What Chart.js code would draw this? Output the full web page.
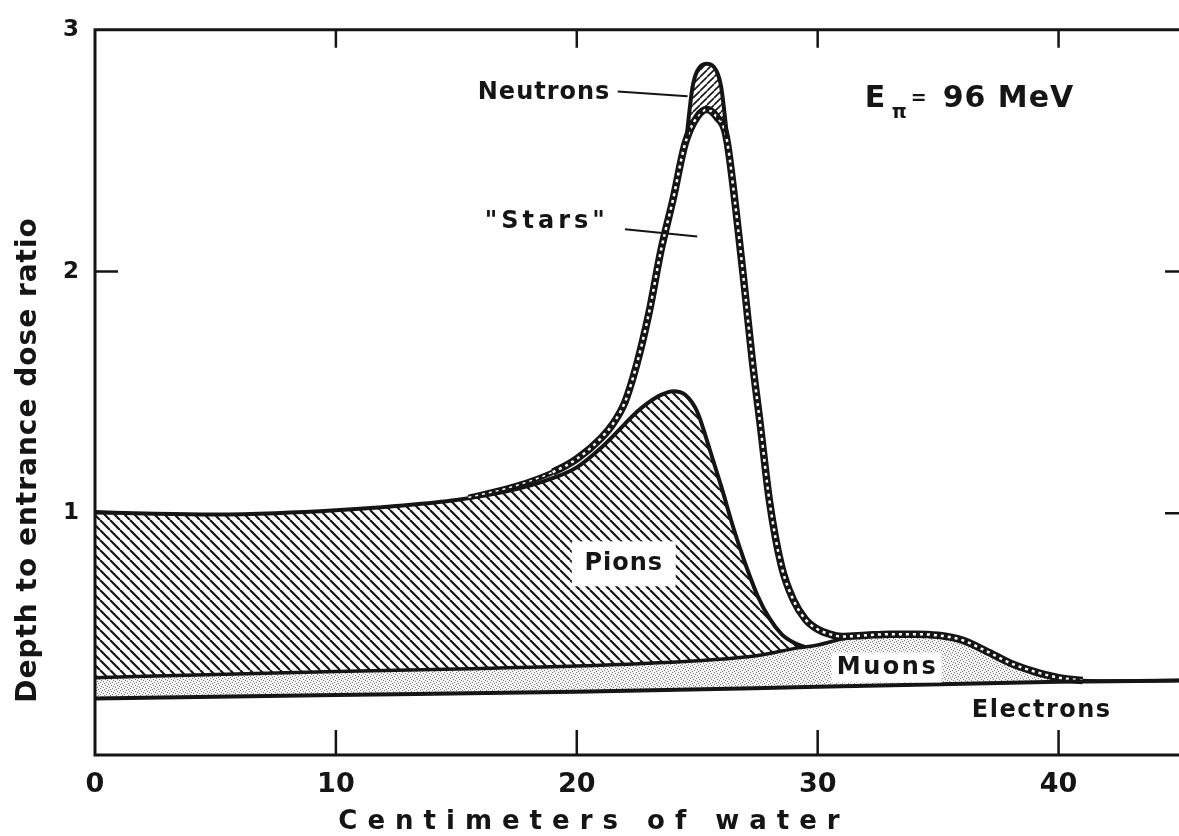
<!DOCTYPE html>
<html>
<head>
<meta charset="utf-8">
<script src="https://cdn.jsdelivr.net/npm/chart.js@4.4.1/dist/chart.umd.min.js"></script>
<style>
  html, body { margin: 0; padding: 0; background: #fff; }
  #wrap { width: 1179px; height: 836px; }
</style>
</head>
<body>
<div id="wrap"><canvas id="dose" width="1179" height="836"></canvas></div>
<script>
// depth in water (cm) vs depth-to-entrance dose ratio
const electronsX = [0, 10, 20, 30, 40, 45];
const electronsY = [0.234, 0.248, 0.262, 0.282, 0.303, 0.308];

const muonsX = [0, 5, 10, 15, 20, 25, 27, 28, 29, 30, 31, 32, 33, 34, 35, 36, 37, 38, 39, 40, 41, 42, 45];
const muonsY = [0.32, 0.333, 0.345, 0.356, 0.368, 0.39, 0.405, 0.42, 0.44, 0.455, 0.48, 0.495, 0.5, 0.5, 0.495, 0.475, 0.43, 0.38, 0.345, 0.32, 0.308, 0.306, 0.308];

const pionsX = [0, 2.5, 5, 7.5, 10, 12.5, 15, 17.5, 19, 20, 21, 22, 22.5, 23, 23.5, 24, 24.5, 25, 25.5, 26, 26.5, 27, 27.5, 28, 28.5, 29, 29.5];
const pionsY = [1.005, 0.998, 0.995, 1.0, 1.012, 1.03, 1.055, 1.1, 1.145, 1.19, 1.27, 1.37, 1.42, 1.46, 1.49, 1.505, 1.49, 1.42, 1.27, 1.11, 0.94, 0.79, 0.66, 0.565, 0.5, 0.465, 0.445];

// "stars" = outer (total) curve, drawn as the beaded band
const starsX = [15.5, 17.5, 19, 20, 21, 21.5, 22, 22.5, 23, 23.5, 24, 24.5, 25, 25.4, 25.8, 26.2, 26.6, 27, 27.3, 27.6, 28, 28.5, 29, 29.5, 30, 30.5, 31, 32, 33, 34, 35, 36, 37, 38, 39, 40, 41];
const starsY = [1.065, 1.115, 1.17, 1.225, 1.31, 1.37, 1.46, 1.62, 1.83, 2.09, 2.3, 2.53, 2.64, 2.67, 2.64, 2.56, 2.26, 1.9, 1.62, 1.38, 1.05, 0.78, 0.64, 0.56, 0.52, 0.5, 0.49, 0.495, 0.5, 0.5, 0.495, 0.475, 0.43, 0.38, 0.345, 0.32, 0.308];

const neutronsX = [24.55, 24.8, 25.0, 25.4, 25.8, 26.0, 26.25];
const neutronsY = [2.55, 2.76, 2.83, 2.86, 2.83, 2.76, 2.55];

const xTicks = [0, 10, 20, 30, 40];
const yTicks = [1, 2, 3];

const FONT = '"DejaVu Sans", sans-serif';
const INK = '#151515';

const canvas = document.getElementById('dose');
const ctx = canvas.getContext('2d');

function hatch(size, width, back) {
  const c = document.createElement('canvas');
  c.width = size; c.height = size;
  const g = c.getContext('2d');
  g.strokeStyle = INK;
  g.lineWidth = width;
  g.beginPath();
  for (let k = -1; k <= 1; k++) {
    if (back) { g.moveTo(k * size, 0); g.lineTo(k * size + size, size); }
    else { g.moveTo(k * size, size); g.lineTo(k * size + size, 0); }
  }
  g.stroke();
  return ctx.createPattern(c, 'repeat');
}

function stipple() {
  const c = document.createElement('canvas');
  c.width = 6; c.height = 6;
  const g = c.getContext('2d');
  g.fillStyle = '#f4f4f4';
  g.fillRect(0, 0, 6, 6);
  g.fillStyle = '#7a7a7a';
  [[0, 0], [3, 1], [1, 3], [4, 4], [5, 2], [2, 5]].forEach(([x, y]) => g.fillRect(x, y, 1, 1));
  return ctx.createPattern(c, 'repeat');
}

const pts = (xs, ys) => xs.map((x, i) => ({ x: x, y: ys[i] }));

// the beaded band is thinner where it leaves the pion curve
const bandWidth = (wide, thin) => s => (s.p0.parsed.x < 19 ? thin : wide);

// frame and inward ticks
const framePlugin = {
  id: 'frame',
  afterDatasetsDraw(chart) {
    const { left, right, top, bottom } = chart.chartArea;
    const x = chart.scales.x, y = chart.scales.y;
    const c = chart.ctx;
    c.save();
    c.strokeStyle = INK;
    c.lineWidth = 3;
    c.beginPath();
    c.moveTo(right, top); c.lineTo(left, top); c.lineTo(left, bottom); c.lineTo(right, bottom);
    c.stroke();
    c.lineWidth = 2.5;
    c.beginPath();
    x.ticks.forEach(t => {
      if (t.value <= 0 || t.value >= 45) return;
      const px = x.getPixelForValue(t.value);
      c.moveTo(px, bottom); c.lineTo(px, bottom - 25);
      c.moveTo(px, top); c.lineTo(px, top + 18);
    });
    [1, 2].forEach(v => {
      const py = y.getPixelForValue(v);
      c.moveTo(left, py); c.lineTo(left + 23, py);
      c.moveTo(right, py); c.lineTo(right - 14, py);
    });
    c.stroke();
    c.restore();
  }
};

// in-plot labels, leader lines and axis titles
const labelPlugin = {
  id: 'labels',
  afterDraw(chart) {
    const x = chart.scales.x, y = chart.scales.y;
    const c = chart.ctx;
    const X = v => x.getPixelForValue(v), Y = v => y.getPixelForValue(v);
    c.save();
    c.fillStyle = INK;
    c.strokeStyle = INK;
    c.textBaseline = 'middle';

    // white boxes behind labels inside filled areas
    c.fillStyle = '#fff';
    c.fillRect(X(21.95) - 52, Y(0.793) - 22, 104, 45);
    c.fillRect(X(32.86) - 55, Y(0.362) - 15, 110, 30);
    c.fillStyle = INK;

    c.font = 'bold 24px ' + FONT;
    c.letterSpacing = '1px';
    c.textAlign = 'left';
    c.fillText('Neutrons', X(15.89), Y(2.741));
    c.letterSpacing = '4px';
    c.fillText('"Stars"', X(16.18), Y(2.207));
    c.textAlign = 'center';
    c.letterSpacing = '1px';
    c.fillText('Pions', X(21.95), Y(0.793));
    c.letterSpacing = '2.5px';
    c.fillText('Muons', X(32.9), Y(0.362));
    c.letterSpacing = '1.5px';
    c.fillText('Electrons', X(39.3), Y(0.185));

    c.lineWidth = 2;
    c.beginPath();
    c.moveTo(X(21.7), Y(2.745)); c.lineTo(X(24.6), Y(2.725));
    c.moveTo(X(22.0), Y(2.175)); c.lineTo(X(25.0), Y(2.145));
    c.stroke();

    // E_pi = 96 MeV
    c.textAlign = 'left';
    c.letterSpacing = '0px';
    const ex = X(31.95), ey = Y(2.713);
    c.font = 'bold 30px ' + FONT;
    c.fillText('E', ex, ey);
    c.font = 'bold 19px ' + FONT;
    c.fillText('π', ex + 27, ey + 14);
    c.fillText('=', ex + 46, ey);
    c.font = 'bold 30px ' + FONT;
    c.letterSpacing = '1px';
    c.fillText('96 MeV', ex + 78, ey);

    // axis titles
    c.font = 'bold 26px ' + FONT;
    c.letterSpacing = '10px';
    c.textAlign = 'center';
    c.fillText('Centimeters of water', 594, 822);
    c.translate(29, 460);
    c.rotate(-Math.PI / 2);
    c.font = 'bold 28px ' + FONT;
    c.letterSpacing = '1px';
    c.fillText('Depth to entrance dose ratio', 0, 0);
    c.restore();
  }
};

const line = { pointRadius: 0, showLine: true, cubicInterpolationMode: 'monotone', borderColor: INK };

new Chart(canvas, {
  type: 'scatter',
  data: {
    datasets: [
      Object.assign({}, line, { label: 'Neutrons', data: pts(neutronsX, neutronsY), borderWidth: 4, backgroundColor: hatch(7, 1.6, false), fill: 2 }),
      Object.assign({}, line, { label: 'stars beads', data: pts(starsX, starsY), borderColor: '#fff', borderWidth: 2.5, borderDash: [3, 4], fill: false,
        segment: { borderWidth: bandWidth(2.5, 1.5) } }),
      Object.assign({}, line, { label: '"Stars"', data: pts(starsX, starsY), borderWidth: 7.5, fill: false,
        segment: { borderWidth: bandWidth(7.5, 5.5) } }),
      Object.assign({}, line, { label: 'Pions', data: pts(pionsX, pionsY), borderWidth: 4, backgroundColor: hatch(10, 2.2, true), fill: 4 }),
      Object.assign({}, line, { label: 'Muons', data: pts(muonsX, muonsY), borderWidth: 3.5, backgroundColor: stipple(), fill: 5 }),
      Object.assign({}, line, { label: 'Electrons', data: pts(electronsX, electronsY), borderWidth: 4, fill: false, order: -1 }),
    ],
  },
  options: {
    responsive: false,
    animation: false,
    layout: { padding: { top: 25, right: 0, left: 0, bottom: 0 } },
    plugins: {
      legend: { display: false },
      tooltip: { enabled: false },
    },
    scales: {
      x: {
        type: 'linear',
        min: 0,
        max: 45,
        grid: { display: false, drawTicks: false },
        border: { display: false },
        ticks: {
          stepSize: 5,
          autoSkip: false,
          maxRotation: 0,
          padding: 14,
          color: INK,
          font: { family: FONT, size: 27, weight: 'bold' },
          callback: v => (xTicks.includes(v) ? String(v) : null),
        },
        afterFit: s => { s.height = 81; },
      },
      y: {
        min: 0,
        max: 3,
        grid: { display: false, drawTicks: false },
        border: { display: false },
        ticks: {
          stepSize: 1,
          padding: 16,
          color: INK,
          font: { family: FONT, size: 23, weight: 'bold' },
          callback: v => (yTicks.includes(v) ? String(v) : null),
        },
        afterFit: s => { s.width = 95; },
      },
    },
  },
  plugins: [framePlugin, labelPlugin],
});
</script>
</body>
</html>
